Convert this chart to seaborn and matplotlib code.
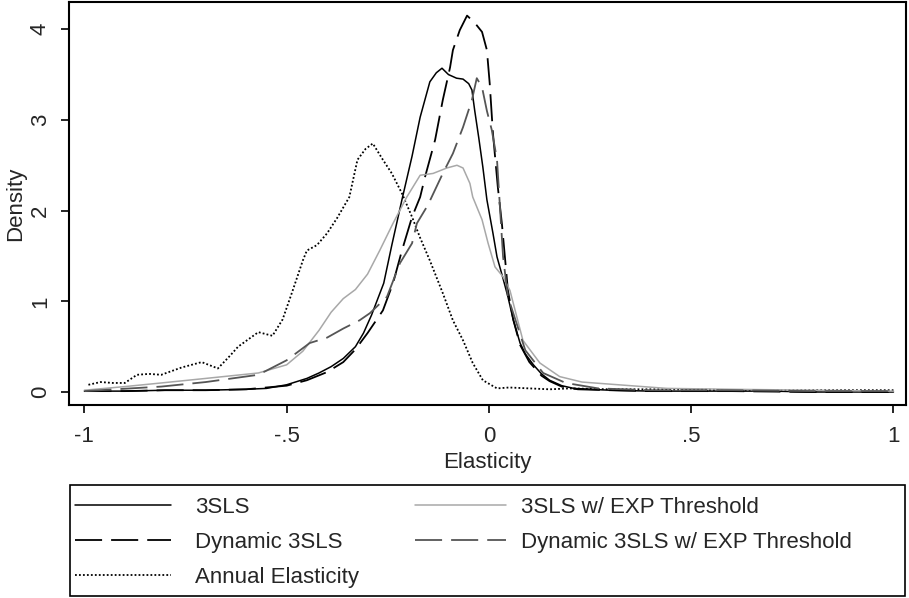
import pandas as pd
import matplotlib
matplotlib.use('Agg')
import matplotlib.pyplot as plt
from matplotlib.patches import Rectangle
import seaborn as sns

# Density curves (x = elasticity, y = density)
sls_x = [-1.0, -0.9, -0.8, -0.7, -0.6, -0.55, -0.5, -0.45, -0.42, -0.39, -0.36, -0.33, -0.31, -0.29,
         -0.26, -0.24, -0.215, -0.19, -0.17, -0.146, -0.13, -0.116, -0.1, -0.08, -0.064, -0.05, -0.042,
         -0.035, -0.025, -0.015, -0.005, 0.01, 0.02, 0.035, 0.047, 0.06, 0.077, 0.09, 0.11, 0.13, 0.15,
         0.18, 0.21, 0.25, 0.3, 0.4, 0.5, 0.6, 0.7, 0.8, 0.9, 1.0]
sls_y = [0.01, 0.01, 0.02, 0.02, 0.03, 0.04, 0.08, 0.15, 0.21, 0.28, 0.37, 0.5, 0.65, 0.85,
         1.2, 1.62, 2.12, 2.6, 3.03, 3.42, 3.52, 3.57, 3.5, 3.46, 3.45, 3.4, 3.33,
         3.1, 2.8, 2.48, 2.12, 1.75, 1.49, 1.25, 1.05, 0.8, 0.54, 0.42, 0.3, 0.2, 0.13,
         0.07, 0.04, 0.03, 0.02, 0.01, 0.01, 0.01, 0.01, 0.0, 0.0, 0.0]

dyn_x = [-1.0, -0.9, -0.8, -0.7, -0.6, -0.5, -0.45, -0.4, -0.36, -0.33, -0.3, -0.262, -0.237, -0.215,
         -0.19, -0.17, -0.158, -0.133, -0.114, -0.096, -0.089, -0.072, -0.054, -0.035, -0.017, -0.005,
         0.002, 0.01, 0.022, 0.032, 0.047, 0.06, 0.077, 0.1, 0.13, 0.15, 0.18, 0.22, 0.3, 0.4, 0.5, 0.6,
         0.8, 1.0]
dyn_y = [0.01, 0.01, 0.02, 0.02, 0.03, 0.07, 0.13, 0.22, 0.33, 0.47, 0.65, 0.9, 1.2, 1.56,
         1.93, 2.15, 2.37, 2.78, 3.22, 3.58, 3.77, 3.99, 4.15, 4.07, 3.97, 3.77,
         3.4, 2.85, 2.26, 1.86, 1.12, 0.8, 0.52, 0.33, 0.18, 0.12, 0.06, 0.03, 0.02, 0.01, 0.01, 0.01,
         0.0, 0.0]

exp_x = [-1.0, -0.9, -0.81, -0.7, -0.57, -0.5, -0.46, -0.42, -0.39, -0.36, -0.33, -0.3, -0.27, -0.237,
         -0.203, -0.17, -0.138, -0.104, -0.079, -0.064, -0.047, -0.04, -0.017, -0.002, 0.015, 0.035,
         0.052, 0.084, 0.126, 0.175, 0.23, 0.32, 0.44, 0.6, 0.8, 1.0]
exp_y = [0.02, 0.06, 0.1, 0.15, 0.21, 0.3, 0.45, 0.68, 0.88, 1.03, 1.13, 1.3, 1.56, 1.86,
         2.15, 2.39, 2.41, 2.47, 2.5, 2.47, 2.3, 2.15, 1.9, 1.64, 1.38, 1.27,
         1.12, 0.57, 0.32, 0.17, 0.11, 0.08, 0.04, 0.03, 0.02, 0.01]

dexp_x = [-1.0, -0.81, -0.7, -0.57, -0.5, -0.443, -0.4, -0.36, -0.32, -0.294, -0.252, -0.22, -0.19,
          -0.178, -0.151, -0.114, -0.089, -0.064, -0.042, -0.03, -0.017, -0.005, 0.007, 0.02, 0.035,
          0.047, 0.09, 0.134, 0.19, 0.27, 0.4, 0.6, 0.8, 1.0]
dexp_y = [0.01, 0.06, 0.11, 0.19, 0.35, 0.54, 0.6, 0.7, 0.79, 0.87, 1.05, 1.42, 1.64,
          1.86, 2.06, 2.41, 2.63, 2.92, 3.22, 3.46, 3.36, 3.1, 2.89, 2.56, 1.49,
          1.05, 0.46, 0.21, 0.1, 0.04, 0.02, 0.02, 0.01, 0.01]

ann_x = [-0.99, -0.96, -0.93, -0.9, -0.87, -0.84, -0.81, -0.76, -0.71, -0.67, -0.64, -0.62, -0.57,
         -0.535, -0.51, -0.485, -0.46, -0.45, -0.425, -0.4, -0.375, -0.345, -0.325, -0.305, -0.287,
         -0.262, -0.24, -0.215, -0.19, -0.17, -0.146, -0.114, -0.089, -0.064, -0.04, -0.015, 0.02,
         0.05, 0.1, 0.15, 0.2, 0.3, 0.4, 0.5, 0.6, 0.7, 0.8, 0.9, 1.0]
ann_y = [0.08, 0.11, 0.1, 0.1, 0.19, 0.2, 0.19, 0.27, 0.33, 0.26, 0.4, 0.5, 0.66,
         0.62, 0.8, 1.12, 1.45, 1.56, 1.62, 1.75, 1.92, 2.15, 2.56, 2.68, 2.74,
         2.56, 2.41, 2.19, 1.93, 1.7, 1.45, 1.09, 0.79, 0.57, 0.32, 0.13, 0.04,
         0.05, 0.04, 0.03, 0.04, 0.03, 0.03, 0.03, 0.02, 0.02, 0.02, 0.02, 0.02]

x_ticks = [-1, -0.5, 0, 0.5, 1]
x_tick_labels = ['-1', '-.5', '0', '.5', '1']
y_ticks = [0, 1, 2, 3, 4]

sns.set_style('ticks')
plt.rcParams['font.family'] = ['Liberation Sans', 'DejaVu Sans']
FS = 16

fig = plt.figure(figsize=(9.09, 5.98), dpi=100)
ax = fig.add_axes([69 / 909, 1 - 405 / 598, (906 - 69) / 909, (405 - 2) / 598])

series = [
    ('3SLS', sls_x, sls_y, 'black', '-'),
    ('Dynamic 3SLS', dyn_x, dyn_y, 'black', (0, (15, 5))),
    ('Annual Elasticity', ann_x, ann_y, 'black', (0, (1, 1.2))),
    ('3SLS w/ EXP Threshold', exp_x, exp_y, '#a8a8a8', '-'),
    ('Dynamic 3SLS w/ EXP Threshold', dexp_x, dexp_y, '#555555', (0, (15, 5))),
]
for name, xs, ys, col, ls in series:
    df = pd.DataFrame({'Elasticity': xs, 'Density': ys})
    sns.lineplot(data=df, x='Elasticity', y='Density', ax=ax, color=col, linestyle=ls,
                 lw=1.3 if ls != '-' else 1.1, label=name, estimator=None, sort=False)

ax.set_xlim(-1.038, 1.031)
ax.set_ylim(-0.143, 4.30)
ax.set_xticks(x_ticks)
ax.set_xticklabels(x_tick_labels)
ax.set_yticks(y_ticks)
ax.tick_params(axis='both', labelsize=FS, length=6, width=1.2, color='black')
ax.tick_params(axis='x', pad=9)
ax.tick_params(axis='y', pad=7)
plt.setp(ax.get_yticklabels(), rotation=90, va='center')
ax.set_xlabel('Elasticity', fontsize=FS, labelpad=4)
ax.set_ylabel('Density', fontsize=FS, labelpad=3)
for s in ax.spines.values():
    s.set_visible(True)
    s.set_linewidth(1.5)
    s.set_color('black')

handles, labels = ax.get_legend_handles_labels()
ax.get_legend().remove()
leg1 = fig.legend(handles[:3], labels[:3], frameon=False, fontsize=FS,
                  loc='upper left', bbox_to_anchor=(75 / 909, 1 - 497 / 598),
                  handlelength=4.3, handletextpad=1.1, labelspacing=0.63,
                  borderpad=0, borderaxespad=0)
leg2 = fig.legend(handles[3:], labels[3:], frameon=False, fontsize=FS,
                  loc='upper left', bbox_to_anchor=(415 / 909, 1 - 497 / 598),
                  handlelength=4.1, handletextpad=0.65, labelspacing=0.63,
                  borderpad=0, borderaxespad=0)
fig.patches.append(Rectangle((70 / 909, 1 - 596 / 598), (905 - 70) / 909, (596 - 485) / 598,
                             transform=fig.transFigure, fill=False, edgecolor='black', lw=1.2))

fig.savefig('out.png', dpi=100)
plt.close(fig)
